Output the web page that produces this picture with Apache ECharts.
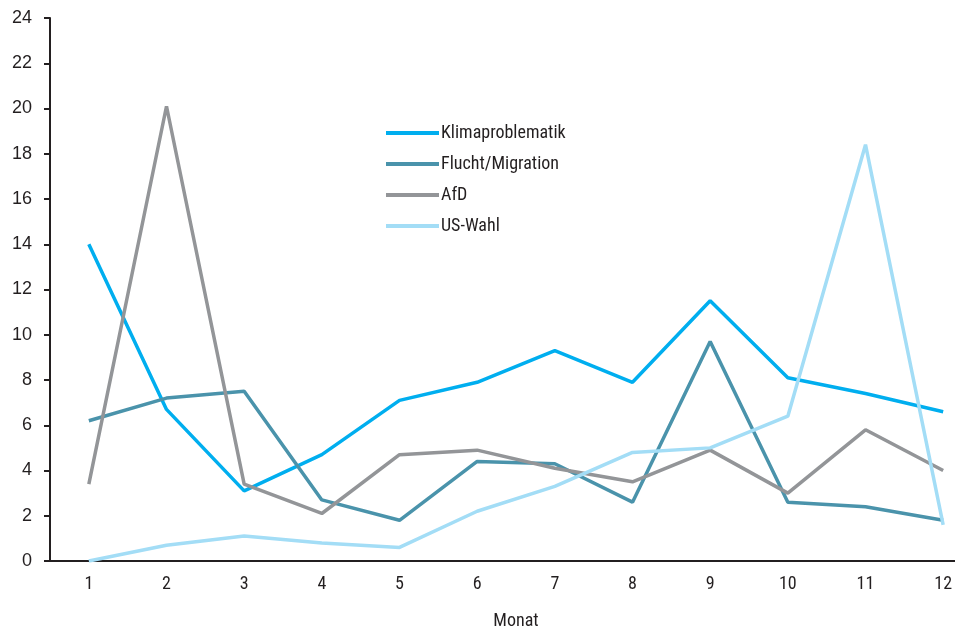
<!DOCTYPE html>
<html><head><meta charset="utf-8">
<script src="https://cdn.jsdelivr.net/npm/echarts@6/dist/echarts.min.js"></script>
<style>html,body{margin:0;padding:0;background:#fff}#c{width:955px;height:628px}</style>
</head><body><div id="c"></div>
<script>
const months = ['1','2','3','4','5','6','7','8','9','10','11','12'];
const klima = [14.0, 6.7, 3.1, 4.7, 7.1, 7.9, 9.3, 7.9, 11.5, 8.1, 7.4, 6.6];
const flucht = [6.2, 7.2, 7.5, 2.7, 1.8, 4.4, 4.3, 2.6, 9.7, 2.6, 2.4, 1.8];
const afd = [3.4, 20.1, 3.4, 2.1, 4.7, 4.9, 4.1, 3.5, 4.9, 3.0, 5.8, 4.0];
const usWahl = [0.0, 0.7, 1.1, 0.8, 0.6, 2.2, 3.3, 4.8, 5.0, 6.4, 18.4, 1.6];
const names = ['Klimaproblematik','Flucht/Migration','AfD','US-Wahl'];
const colors = ['#00aeef','#4a93ab','#939598','#a3ddf6'];
const narrow = '"Liberation Sans Narrow","Roboto Condensed","Liberation Sans",sans-serif';
const chart = echarts.init(document.getElementById('c'));
const mk = (name, data, i) => ({
  name, type:'line', data, symbol:'none', smooth:false,
  lineStyle:{color:colors[i], width:3.5}, itemStyle:{color:colors[i]}
});
chart.setOption({
  animation:false,
  grid:{left:50, top:18, width:932, height:543, containLabel:false, outerBoundsMode:'none'},
  legend:{
    orient:'vertical', left:381, top:119, itemWidth:53, itemHeight:4, itemGap:13,
    icon:'rect',
    textStyle:{fontFamily:narrow, fontSize:18, color:'#231f20', padding:[0,0,0,-3]},
    data:names
  },
  xAxis:{
    type:'category', data:months, boundaryGap:true,
    name:'Monat', nameLocation:'middle', nameGap:51,
    nameTextStyle:{fontFamily:narrow, fontSize:18, color:'#231f20'},
    axisLine:{lineStyle:{color:'#231f20', width:2}},
    axisTick:{show:false},
    axisLabel:{fontFamily:narrow, fontSize:18, color:'#231f20', margin:14}
  },
  yAxis:{
    type:'value', min:0, max:24, interval:2,
    axisLine:{show:true, lineStyle:{color:'#231f20', width:2}},
    axisTick:{show:true, length:6, lineStyle:{color:'#231f20', width:2}},
    splitLine:{show:false},
    axisLabel:{fontFamily:'"Liberation Sans",Arial,sans-serif', fontSize:18, color:'#231f20', margin:18}
  },
  series:[mk(names[0],klima,0), mk(names[1],flucht,1), mk(names[2],afd,2), mk(names[3],usWahl,3)]
});
</script></body></html>
